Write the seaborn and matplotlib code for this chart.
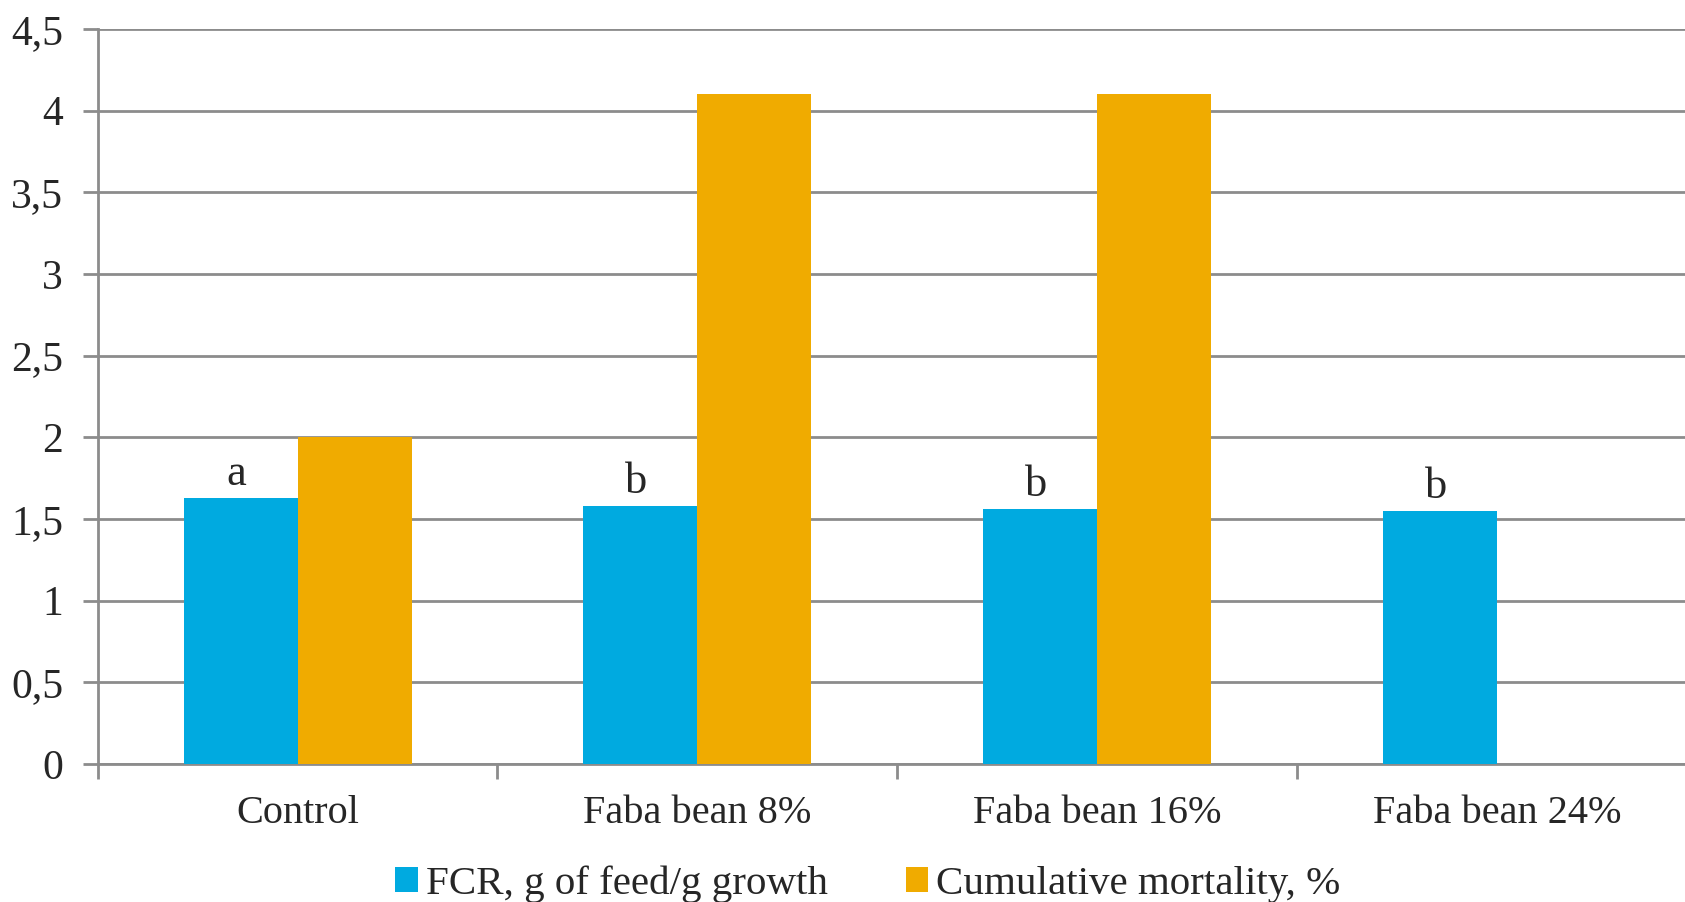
import numpy as np
import pandas as pd
import seaborn as sns
import matplotlib.pyplot as plt

# Values
groups = ["Control", "Faba bean 8%", "Faba bean 16%", "Faba bean 24%"]
fcr = [1.63, 1.58, 1.56, 1.55]
mortality = [2.0, 4.1, 4.1, 0.0]
letters = ["a", "b", "b", "b"]

series_names = ["FCR, g of feed/g growth", "Cumulative mortality, %"]
palette = {series_names[0]: "#00AAE0", series_names[1]: "#F0AB00"}

df = pd.DataFrame({
    "group": groups * 2,
    "value": fcr + mortality,
    "series": [series_names[0]] * len(groups) + [series_names[1]] * len(groups),
})

sns.set_style("white")
plt.rcParams["font.family"] = ["Liberation Serif", "DejaVu Serif"]

fig = plt.figure(figsize=(16.85, 9.02), dpi=100)
ax = fig.add_axes([0.058, 0.153, 0.949, 0.815])

sns.barplot(data=df, x="group", y="value", hue="series", order=groups,
            hue_order=series_names, palette=palette, width=0.57,
            saturation=1, linewidth=0, ax=ax, zorder=3)

grid_col = "#8c8c8c"
ax.set_ylim(0, 4.5)
ax.set_yticks(np.arange(0, 4.51, 0.5))
ax.set_yticklabels([f"{v:g}".replace(".", ",") for v in np.arange(0, 4.51, 0.5)])
ax.yaxis.grid(True, color=grid_col, linewidth=2, zorder=0)
ax.set_axisbelow(True)
ax.set_xlim(-0.5, len(groups) - 0.5)

# category boundaries as tick marks, labels at centres
ax.set_xticks(np.arange(-0.5, len(groups), 1.0), minor=True)
ax.tick_params(axis="x", which="major", bottom=False, pad=19, labelsize=29)
ax.tick_params(axis="x", which="minor", bottom=True, length=11, width=2,
               color=grid_col)
ax.tick_params(axis="y", left=True, length=11, width=2, color=grid_col,
               pad=14, labelsize=30)
ax.set_xlabel("")
ax.set_ylabel("")

for side in ["top", "right"]:
    ax.spines[side].set_visible(False)
for side in ["left", "bottom"]:
    ax.spines[side].set_color(grid_col)
    ax.spines[side].set_linewidth(2)

# significance letters above FCR bars
for bar, lab in zip(ax.containers[0], letters):
    ax.text(bar.get_x() + bar.get_width() / 2 - 0.01, bar.get_height() + 0.08,
            lab, ha="center", va="baseline", fontsize=32)

handles, labels = ax.get_legend_handles_labels()
ax.legend_.remove()
fig.legend(handles, labels, loc="center", bbox_to_anchor=(0.515, 0.02),
           ncol=2, frameon=False, fontsize=29.5, handlelength=0.55,
           handleheight=0.55, handletextpad=0.2, columnspacing=1.9)

fig.savefig("out.png", dpi=100)
